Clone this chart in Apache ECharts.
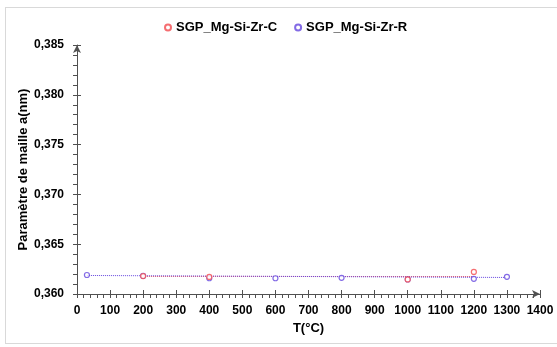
<!DOCTYPE html>
<html><head><meta charset="utf-8">
<script src="https://cdn.jsdelivr.net/npm/echarts@6/dist/echarts.min.js"></script>
<style>html,body{margin:0;padding:0;background:#fff;}#c{width:557px;height:347px;}
#frame{position:absolute;left:5px;top:7px;width:560px;height:337px;border:1px solid #d9d9d9;box-sizing:border-box;pointer-events:none;}</style>
</head><body><div id="c"></div><div id="frame"></div>
<script>
var seriesNames = ['SGP_Mg-Si-Zr-C', 'SGP_Mg-Si-Zr-R'];
var tempC = [200, 400, 1000, 1200];
var valC = [0.36180, 0.36171, 0.36146, 0.36222];
var tempR = [30, 200, 400, 600, 800, 1000, 1200, 1300];
var valR = [0.36191, 0.36181, 0.36158, 0.36158, 0.36162, 0.36146, 0.36152, 0.36172];
var trendXC = [200, 1200];
var trendYC = [0.36177, 0.36175];
var trendXR = [30, 1300];
var trendYR = [0.36186, 0.36166];
var xTicks = [0,100,200,300,400,500,600,700,800,900,1000,1100,1200,1300,1400];
var yTicks = ['0,360','0,365','0,370','0,375','0,380','0,385'];

var red = '#f24a4d', blue = '#6446de';
function pairs(xs, ys){ return xs.map(function(x,i){return [x, ys[i]];}); }
var font = 'Liberation Sans, Arial, sans-serif';
var axisCol = '#505050';
var chart = echarts.init(document.getElementById('c'));
chart.setOption({
  animation:false,
  legend:{top:16,left:159,itemGap:17,itemWidth:6,itemHeight:6,
    textStyle:{fontFamily:font,fontWeight:'bold',fontSize:13,color:'#000'},
    data:[{name:seriesNames[0],icon:'circle'},{name:seriesNames[1],icon:'circle'}]},
  grid:{left:77,right:17,top:45,bottom:53},
  xAxis:[{type:'value',min:0,max:1400,interval:100,
    name:'T(°C)',nameLocation:'middle',nameGap:28,
    nameTextStyle:{fontFamily:font,fontWeight:'bold',fontSize:13,color:'#000'},
    axisLine:{lineStyle:{color:axisCol,width:1},symbol:['none','arrow'],symbolSize:[6,8]},
    axisTick:{show:true,inside:false,length:4,lineStyle:{color:axisCol}},
    minorTick:{show:true,splitNumber:5,length:4,lineStyle:{color:axisCol}},
    axisLabel:{fontFamily:font,fontWeight:'bold',fontSize:12,color:'#000',margin:11,
      formatter:function(v){return xTicks.indexOf(v)>=0? String(v):'';}},
    splitLine:{show:false}},
   {type:'value',min:0,max:1400,interval:100,position:'bottom',
    axisLine:{show:false},
    axisTick:{show:true,inside:true,length:4,lineStyle:{color:axisCol}},
    minorTick:{show:false},axisLabel:{show:false},splitLine:{show:false}}],
  yAxis:[{type:'value',min:0.360,max:0.385,interval:0.005,
    name:'Paramètre de maille a(nm)',nameLocation:'middle',nameGap:47,nameMoveOverlap:false,
    nameTextStyle:{fontFamily:font,fontWeight:'bold',fontSize:13,color:'#000'},
    axisLine:{show:true,lineStyle:{color:axisCol,width:1},symbol:['none','arrow'],symbolSize:[6,8]},
    axisTick:{show:true,inside:false,length:4,lineStyle:{color:axisCol}},
    minorTick:{show:true,splitNumber:5,length:4,lineStyle:{color:axisCol}},
    axisLabel:{fontFamily:font,fontWeight:'bold',fontSize:12,color:'#000',margin:13,
      formatter:function(v){var i=Math.round((v-0.360)/0.005);return yTicks[i]||'';}},
    splitLine:{show:false}},
   {type:'value',min:0.360,max:0.385,interval:0.005,position:'left',
    axisLine:{show:false},
    axisTick:{show:true,inside:true,length:4,lineStyle:{color:axisCol}},
    axisLabel:{show:false},splitLine:{show:false}}],
  series:[
    {name:seriesNames[0]+' trend',type:'line',data:pairs(trendXC,trendYC),symbol:'none',
      lineStyle:{color:red,width:1,type:[1,1]},z:2,silent:true},
    {name:seriesNames[1]+' trend',type:'line',data:pairs(trendXR,trendYR),symbol:'none',
      lineStyle:{color:blue,width:1,type:[1,1]},z:2,silent:true},
    {name:seriesNames[0],type:'scatter',data:pairs(tempC,valC),symbol:'circle',symbolSize:5,
      itemStyle:{color:'#fff',borderColor:red,borderWidth:1.2},z:4},
    {name:seriesNames[1],type:'scatter',data:pairs(tempR,valR),symbol:'circle',symbolSize:5,
      itemStyle:{color:'#fff',borderColor:blue,borderWidth:1.2},z:3}
  ]
});
</script></body></html>
